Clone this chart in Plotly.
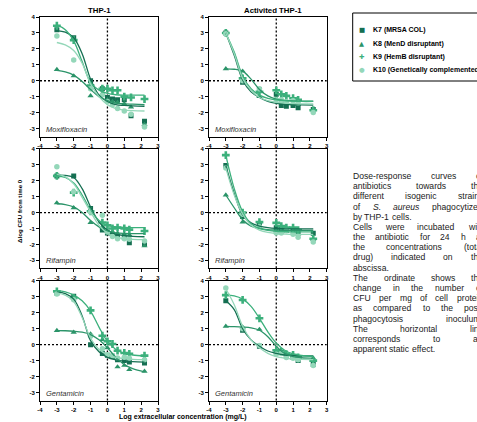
import plotly.graph_objects as go

FIG_W, FIG_H = 477, 422

# ---------------- data ----------------
STRAIN_NAMES = ["K7 (MRSA COL)", "K8 (MenD disruptant)", "K9 (HemB disruptant)",
                "K10 (Genetically complemented)"]
COL_TITLES = ["THP-1", "Activited THP-1"]
DRUGS = ["Moxifloxacin", "Rifampin", "Gentamicin"]

X_TICKS = [-4, -3, -2, -1, 0, 1, 2, 3]
X_TICK_LABELS = ["-4", "-3", "-2", "-1", "0", "1", "2", "3"]
Y_TICKS = [-3, -2, -1, 0, 1, 2, 3, 4]
Y_TICK_LABELS = ["-3", "-2", "-1", "0", "1", "2", "3", "4"]

STATIC_LEVEL = 0.0      # horizontal dotted line (static effect)
REF_LOG_CONC = 0.0      # vertical dotted line (1 mg/L)

CURVE_X = [-3, -2.5, -2, -1.5, -1, -0.5, 0, 0.5, 1, 1.5, 2.2]

# Moxifloxacin, THP-1
moxi_thp1_conc = [-3, -2, -1, -0.3, 0, 0.3, 0.6, 1, 1.4, 2.2]
moxi_thp1_k7 = [3.2, 2.7, 0.0, -0.5, -1.05, -1.15, -1.2, -1.2, -2.2, -2.55]
moxi_thp1_k8 = [0.7, 0.3, -0.95, -0.8, -1.2, -1.3, -1.35, -1.45, -1.65, -2.75]
moxi_thp1_k9 = [3.45, 2.55, -0.3, -0.5, -0.5, -0.6, -0.6, -1.0, -1.05, -1.15]
moxi_thp1_k10 = [2.8, 1.3, -0.5, -0.9, -1.3, -1.5, -1.75, -1.9, -2.1, -2.9]
moxi_thp1_fit_k7 = [3.15, 3.05, 2.7, 1.7, 0.1, -0.9, -1.3, -1.5, -1.55, -1.58, -1.6]
moxi_thp1_fit_k8 = [0.65, 0.55, 0.35, -0.05, -0.55, -1.0, -1.25, -1.4, -1.45, -1.47, -1.5]
moxi_thp1_fit_k9 = [3.5, 3.2, 2.5, 1.2, -0.1, -0.6, -0.8, -0.88, -0.9, -0.9, -0.9]
moxi_thp1_fit_k10 = [2.4, 2.25, 1.9, 1.1, -0.2, -1.0, -1.5, -1.75, -1.85, -1.88, -1.9]

# Moxifloxacin, activated THP-1
moxi_act_conc = [-3, -2, -1, 0, 0.3, 0.6, 1, 1.3, 2.2]
moxi_act_k7 = [3.0, -0.1, -0.55, -0.85, -1.55, -1.6, -1.55, -1.7, -1.8]
moxi_act_k8 = [0.75, 0.6, -1.0, -1.1, -1.3, -1.4, -1.45, -1.5, -1.8]
moxi_act_k9 = [3.0, 0.15, -0.7, -0.6, -0.85, -0.95, -1.1, -1.2, -1.85]
moxi_act_k10 = [2.95, 0.0, -0.5, -1.2, -1.2, -1.3, -1.25, -1.4, -2.0]
moxi_act_fit_k7 = [3.0, 1.6, 0.05, -0.7, -1.05, -1.3, -1.42, -1.48, -1.5, -1.52, -1.53]
moxi_act_fit_k8 = [0.75, 0.72, 0.6, 0.1, -0.55, -0.95, -1.15, -1.23, -1.26, -1.28, -1.28]
moxi_act_fit_k9 = [3.0, 1.8, 0.3, -0.5, -0.9, -1.1, -1.2, -1.25, -1.28, -1.3, -1.3]
moxi_act_fit_k10 = [3.0, 1.7, 0.15, -0.6, -1.05, -1.25, -1.35, -1.4, -1.43, -1.45, -1.45]

# Rifampin, THP-1
rif_thp1_conc = [-3, -2, -1, -0.3, 0, 0.3, 0.6, 1, 1.3, 2.2]
rif_thp1_k7 = [2.3, 2.3, 0.25, -1.1, -1.28, -1.4, -1.5, -1.55, -1.9, -1.95]
rif_thp1_k8 = [0.6, 0.3, -0.63, -0.9, -1.1, -1.2, -1.3, -1.35, -1.4, -2.1]
rif_thp1_k9 = [2.3, 1.25, 0.08, -0.63, -0.8, -1.0, -0.95, -1.0, -1.07, -1.16]
rif_thp1_k10 = [2.88, 1.3, 0.04, -0.17, -1.22, -1.5, -1.64, -1.64, -1.68, -1.79]
rif_thp1_fit_k7 = [2.35, 2.33, 2.2, 1.5, 0.35, -0.6, -1.1, -1.35, -1.45, -1.5, -1.52]
rif_thp1_fit_k8 = [0.55, 0.5, 0.35, 0.0, -0.5, -0.9, -1.15, -1.27, -1.31, -1.32, -1.33]
rif_thp1_fit_k9 = [2.3, 2.2, 1.85, 1.1, 0.15, -0.5, -0.8, -0.9, -0.94, -0.95, -0.95]
rif_thp1_fit_k10 = [2.4, 2.25, 1.8, 0.95, 0.05, -0.8, -1.3, -1.55, -1.65, -1.68, -1.7]

# Rifampin, activated THP-1
rif_act_conc = [-3, -2, -1, 0, 0.3, 0.6, 1, 1.3, 2.2]
rif_act_k7 = [2.95, -0.25, -0.8, -0.95, -1.05, -1.1, -1.1, -1.2, -1.3]
rif_act_k8 = [1.1, -0.6, -0.95, -1.15, -1.25, -1.2, -1.3, -1.35, -1.7]
rif_act_k9 = [3.6, 0.0, -0.6, -0.65, -0.85, -0.95, -0.95, -1.1, -1.65]
rif_act_k10 = [2.8, -0.1, -0.9, -1.28, -1.28, -1.15, -1.37, -1.55, -1.85]
rif_act_fit_k7 = [2.95, 1.2, -0.15, -0.65, -0.85, -0.95, -1.0, -1.02, -1.03, -1.03, -1.03]
rif_act_fit_k8 = [1.1, 0.3, -0.45, -0.85, -1.0, -1.08, -1.1, -1.12, -1.12, -1.12, -1.12]
rif_act_fit_k9 = [3.6, 1.5, 0.05, -0.7, -1.0, -1.12, -1.18, -1.2, -1.22, -1.22, -1.22]
rif_act_fit_k10 = [2.8, 1.1, -0.1, -0.8, -1.1, -1.25, -1.32, -1.35, -1.37, -1.37, -1.37]

# Gentamicin, THP-1
gen_thp1_conc = [-3, -2, -1, -0.3, 0, 0.3, 0.6, 1, 1.3, 2.2]
gen_thp1_k7 = [3.24, 3.03, 0.0, -0.56, -0.67, -0.73, -0.94, -1.0, -1.09, -1.15]
gen_thp1_k8 = [0.88, 0.77, 0.67, 0.31, -0.2, -0.8, -1.4, -1.3, -1.57, -1.67]
gen_thp1_k9 = [3.34, 2.92, 2.15, 0.56, 0.21, 0.04, -0.38, -0.52, -0.58, -0.69]
gen_thp1_k10 = [3.17, 2.82, 0.52, -0.25, -0.63, -0.7, -0.84, -0.79, -0.85, -0.94]
gen_thp1_fit_k7 = [3.3, 3.2, 2.85, 1.8, 0.25, -0.45, -0.8, -0.95, -1.03, -1.07, -1.1]
gen_thp1_fit_k8 = [0.88, 0.87, 0.84, 0.78, 0.63, 0.3, -0.2, -0.8, -1.25, -1.5, -1.7]
gen_thp1_fit_k9 = [3.38, 3.3, 3.1, 2.75, 2.1, 1.1, 0.2, -0.3, -0.55, -0.65, -0.7]
gen_thp1_fit_k10 = [3.25, 3.1, 2.7, 1.7, 0.4, -0.3, -0.62, -0.8, -0.88, -0.92, -0.94]

# Gentamicin, activated THP-1
gen_act_conc = [-3, -2, -1, 0, 0.3, 0.6, 1, 1.3, 2.2]
gen_act_k7 = [2.75, 0.9, -0.1, -0.45, -0.5, -0.7, -0.8, -1.0, -1.25]
gen_act_k8 = [1.15, 1.1, 0.95, -0.4, -0.5, -0.6, -0.7, -0.75, -0.85]
gen_act_k9 = [3.1, 2.8, 1.65, -0.35, -0.45, -0.6, -0.65, -0.8, -1.0]
gen_act_k10 = [3.55, 1.0, -0.05, -0.6, -0.55, -0.8, -0.85, -0.95, -1.3]
gen_act_fit_k7 = [2.75, 2.2, 1.0, 0.3, -0.1, -0.4, -0.55, -0.65, -0.68, -0.7, -0.7]
gen_act_fit_k8 = [1.15, 1.13, 1.1, 1.05, 0.9, 0.5, -0.1, -0.55, -0.75, -0.82, -0.85]
gen_act_fit_k9 = [3.1, 3.05, 2.85, 2.4, 1.65, 0.8, 0.1, -0.35, -0.58, -0.68, -0.73]
gen_act_fit_k10 = [3.5, 2.5, 1.15, 0.3, -0.2, -0.55, -0.75, -0.85, -0.9, -0.92, -0.94]

CAPTION_LINES = [
    "Dose-response curves of", "antibiotics towards the", "different isogenic strains",
    "of S. aureus phagocytized", "by THP-1 cells.", "Cells were incubated with",
    "the antibiotic for 24 h at", "the concentrations (total", "drug) indicated on the",
    "abscissa.", "The ordinate shows the", "change in the number of",
    "CFU per mg of cell protein", "as compared to the post-", "phagocytosis inoculum.",
    "The horizontal line", "corresponds to an", "apparent static effect.",
]

# ---------------- styles / layout ----------------
STRAIN_COLORS = ["#156f52", "#2b9469", "#3cb07c", "#94d7b9"]
STRAIN_SYMBOLS = ["square", "triangle-up", "cross", "circle"]
STRAIN_SIZES = [5, 5.5, 6.5, 5.5]
LEGEND_GLYPHS = ["\u25A0", "\u25B2", "\u271A", "\u25CF"]
FONT = "Liberation Sans, Arial, sans-serif"

ROWS_PX = [(17, 136.5), (148.8, 268.3), (280.8, 400.5)]
COLS_PX = [(40, 158), (209, 326.7)]

CAP_FONT = FONT
CAP_SIZE = 8.6
CAP_X0 = 352
CAP_Y0 = 176
CAP_DY = 10.18
CAP_WIDTH = 130
CAP_JUSTIFY = [True, True, True, True, False, True, True, True, True, False,
               True, True, True, True, True, True, True, False]
CAP_ITALIC = {"S.", "aureus"}

ARIAL_W = {' ': 278, '(': 333, ')': 333, '-': 333, '.': 278, '/': 278,
           'A': 667, 'B': 667, 'C': 722, 'D': 722, 'E': 667, 'F': 611, 'G': 778,
           'H': 722, 'I': 278, 'K': 667, 'L': 556, 'M': 833, 'N': 722, 'O': 778,
           'P': 667, 'R': 722, 'S': 667, 'T': 611, 'U': 722,
           'a': 556, 'b': 556, 'c': 500, 'd': 556, 'e': 556, 'f': 278, 'g': 556,
           'h': 556, 'i': 222, 'j': 222, 'k': 500, 'l': 222, 'm': 833, 'n': 556,
           'o': 556, 'p': 556, 'q': 556, 'r': 333, 's': 500, 't': 278, 'u': 556,
           'v': 500, 'w': 722, 'x': 500, 'y': 500, 'z': 500}


def tw(s):
    return sum(ARIAL_W.get(c, 556) for c in s) * CAP_SIZE / 1000.0


def px_x(v):
    return v / FIG_W


def px_y(v):
    return 1 - v / FIG_H


PANELS = [
    (0, 0, moxi_thp1_conc, [moxi_thp1_k7, moxi_thp1_k8, moxi_thp1_k9, moxi_thp1_k10],
     [moxi_thp1_fit_k7, moxi_thp1_fit_k8, moxi_thp1_fit_k9, moxi_thp1_fit_k10]),
    (0, 1, moxi_act_conc, [moxi_act_k7, moxi_act_k8, moxi_act_k9, moxi_act_k10],
     [moxi_act_fit_k7, moxi_act_fit_k8, moxi_act_fit_k9, moxi_act_fit_k10]),
    (1, 0, rif_thp1_conc, [rif_thp1_k7, rif_thp1_k8, rif_thp1_k9, rif_thp1_k10],
     [rif_thp1_fit_k7, rif_thp1_fit_k8, rif_thp1_fit_k9, rif_thp1_fit_k10]),
    (1, 1, rif_act_conc, [rif_act_k7, rif_act_k8, rif_act_k9, rif_act_k10],
     [rif_act_fit_k7, rif_act_fit_k8, rif_act_fit_k9, rif_act_fit_k10]),
    (2, 0, gen_thp1_conc, [gen_thp1_k7, gen_thp1_k8, gen_thp1_k9, gen_thp1_k10],
     [gen_thp1_fit_k7, gen_thp1_fit_k8, gen_thp1_fit_k9, gen_thp1_fit_k10]),
    (2, 1, gen_act_conc, [gen_act_k7, gen_act_k8, gen_act_k9, gen_act_k10],
     [gen_act_fit_k7, gen_act_fit_k8, gen_act_fit_k9, gen_act_fit_k10]),
]

fig = go.Figure()
layout = dict(width=FIG_W, height=FIG_H, margin=dict(l=0, r=0, t=0, b=0, autoexpand=False),
              paper_bgcolor="white", plot_bgcolor="white", showlegend=False,
              font=dict(family=FONT, color="black"))
shapes = []
annotations = []

axis_common = dict(showline=True, linecolor="black", linewidth=1, mirror=True,
                   ticks="outside", ticklen=3, tickwidth=1, tickcolor="black",
                   showgrid=False, zeroline=False, fixedrange=True, automargin=False,
                   tickfont=dict(family=FONT, size=6, color="black", weight="bold"))

for i, (r, c, conc, series, fits) in enumerate(PANELS):
    n = i + 1
    xa = "x" if n == 1 else f"x{n}"
    ya = "y" if n == 1 else f"y{n}"
    for s in range(4):
        fig.add_trace(go.Scatter(x=conc, y=series[s], mode="markers", xaxis=xa, yaxis=ya,
                                 marker=dict(symbol=STRAIN_SYMBOLS[s], size=STRAIN_SIZES[s],
                                             color=STRAIN_COLORS[s], line=dict(width=0)),
                                 name=STRAIN_NAMES[s], hoverinfo="skip"))
    for s in range(4):
        fig.add_trace(go.Scatter(x=CURVE_X, y=fits[s], mode="lines", xaxis=xa, yaxis=ya,
                                 line=dict(color=STRAIN_COLORS[s], width=1.3, shape="spline"),
                                 name=STRAIN_NAMES[s], hoverinfo="skip"))
    x0, x1 = COLS_PX[c]
    y0, y1 = ROWS_PX[r]
    layout["xaxis" if n == 1 else f"xaxis{n}"] = dict(
        axis_common, domain=[px_x(x0), px_x(x1)], range=[-4, 3], anchor=ya,
        tickvals=X_TICKS, ticktext=X_TICK_LABELS)
    layout["yaxis" if n == 1 else f"yaxis{n}"] = dict(
        axis_common, domain=[px_y(y1), px_y(y0)], range=[-3.5, 4], anchor=xa,
        tickvals=Y_TICKS, ticktext=Y_TICK_LABELS)
    # dotted reference lines
    shapes.append(dict(type="line", xref=f"{xa} domain", x0=0, x1=1, yref=ya,
                       y0=STATIC_LEVEL, y1=STATIC_LEVEL, layer="below",
                       line=dict(color="black", width=1.3, dash="2px,2px")))
    shapes.append(dict(type="line", xref=xa, x0=REF_LOG_CONC, x1=REF_LOG_CONC,
                       yref=f"{ya} domain", y0=0, y1=1, layer="below",
                       line=dict(color="black", width=1.3, dash="2px,2px")))
    annotations.append(dict(text=f"<i>{DRUGS[r]}</i>", xref="paper", yref="paper",
                            x=px_x(x0 + 4.5), y=px_y(y1 - 7.5), xanchor="left",
                            yanchor="middle", showarrow=False, borderpad=0,
                            font=dict(family=FONT, size=7.5, color="#333333")))

# column titles
for c, (cx, title) in enumerate(zip([99.5, 273], COL_TITLES)):
    annotations.append(dict(text=f"<b>{title}</b>", xref="paper", yref="paper",
                            x=px_x(cx), y=px_y(10.5), xanchor="center", yanchor="middle",
                            showarrow=False, borderpad=0,
                            font=dict(family=FONT, size=7.8, color="black")))

# axis titles
annotations.append(dict(text="<b>Log extracellular concentration (mg/L)</b>", xref="paper",
                        yref="paper", x=px_x(183), y=px_y(417), xanchor="center",
                        yanchor="middle", showarrow=False, borderpad=0,
                        font=dict(family=FONT, size=7, color="black")))
annotations.append(dict(text="<b>\u0394log CFU from time 0</b>", xref="paper", yref="paper",
                        x=px_x(19), y=px_y(211), xanchor="center", yanchor="middle",
                        textangle=-90, showarrow=False, borderpad=0,
                        font=dict(family=FONT, size=6.2, color="black")))

# legend box (drawn manually)
shapes.append(dict(type="rect", xref="paper", yref="paper", x0=px_x(352.7), x1=1.05,
                   y0=px_y(81), y1=px_y(13), line=dict(color="black", width=1)))
for s, ly in enumerate([30, 43.5, 56.8, 70.2]):
    annotations.append(dict(text=LEGEND_GLYPHS[s], xref="paper", yref="paper",
                            x=px_x(361.7), y=px_y(ly), xanchor="center", yanchor="middle",
                            showarrow=False, borderpad=0,
                            font=dict(family="DejaVu Sans", size=6.5, color=STRAIN_COLORS[s])))
    annotations.append(dict(text=f"<b>{STRAIN_NAMES[s]}</b>", xref="paper", yref="paper",
                            x=px_x(372), y=px_y(ly), xanchor="left", yanchor="middle",
                            showarrow=False, borderpad=0,
                            font=dict(family=FONT, size=7, color="black")))

# justified caption, word by word
for li, line in enumerate(CAPTION_LINES):
    words = line.split(" ")
    widths = [tw(w) for w in words]
    if CAP_JUSTIFY[li] and len(words) > 1:
        gap = (CAP_WIDTH - sum(widths)) / (len(words) - 1)
    else:
        gap = tw(" ")
    xpos = CAP_X0
    ypos = CAP_Y0 + li * CAP_DY
    for w, wd in zip(words, widths):
        txt = f"<i>{w}</i>" if w in CAP_ITALIC else w
        annotations.append(dict(text=txt, xref="paper", yref="paper", x=px_x(xpos),
                                y=px_y(ypos), xanchor="left", yanchor="middle",
                                showarrow=False, borderpad=0,
                                font=dict(family=CAP_FONT, size=CAP_SIZE, color="#1a1a1a")))
        xpos += wd + gap

layout["shapes"] = shapes
layout["annotations"] = annotations
fig.update_layout(**layout)
fig.write_html("out.html", config={"displayModeBar": False},
               post_script="document.body.style.margin='0px';document.body.style.padding='0px';")
